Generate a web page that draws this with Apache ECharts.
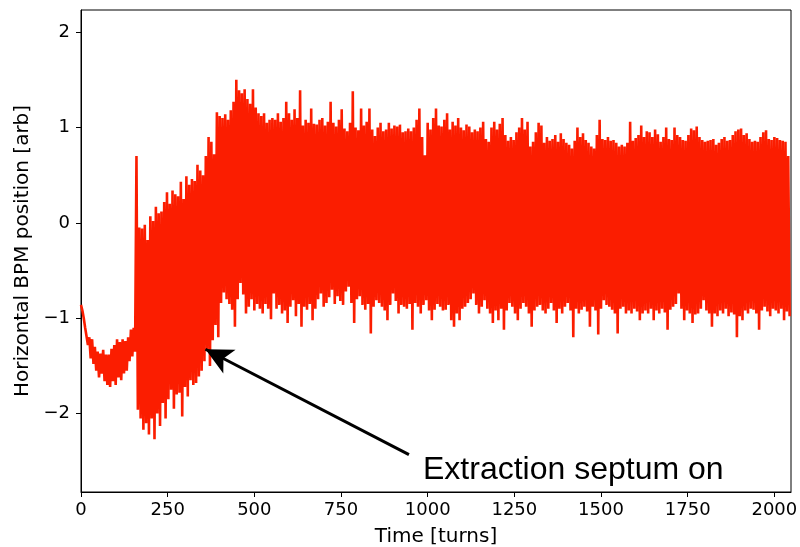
<!DOCTYPE html>
<html>
<head>
<meta charset="utf-8">
<script src="https://cdn.jsdelivr.net/npm/echarts@6/dist/echarts.min.js"></script>
<style>html,body{margin:0;padding:0;background:#fff}#c{width:800px;height:547px}</style>
</head>
<body>
<div id="c"></div>
<script>
// Envelope of the turn-by-turn BPM signal, read every 8 turns (upper extreme, lower extreme)
const turnStep = 8;
const upperEnv = [
 -0.86,-1.0,-1.12,-1.2,-1.22,-1.3,-1.35,-1.37,-1.33,-1.38,-1.38,-1.32,-1.28,-1.22,-1.25,-1.22,-1.24,-1.2,-1.12,-1.1,
 0.70,-0.05,-0.06,-0.02,-0.18,0.07,0.02,0.17,0.10,0.12,0.22,0.32,
 0.20,0.34,0.30,0.28,0.43,0.25,0.49,0.40,0.46,0.44,0.61,0.55,
 0.50,0.70,0.90,0.85,0.72,1.16,1.12,1.10,1.14,1.08,1.18,1.27,
 1.50,1.39,1.36,1.40,1.30,1.25,1.40,1.21,1.15,1.12,1.15,1.05,
 1.08,1.10,1.08,1.15,1.06,1.10,1.27,1.15,1.08,1.19,1.10,1.39,
 1.02,1.08,1.05,1.20,1.04,1.03,1.08,1.10,1.02,1.06,1.27,1.05,
 1.01,1.08,1.19,0.99,0.96,1.05,1.38,1.00,0.97,1.20,1.02,1.06,
 1.20,0.98,0.91,1.00,1.05,0.96,0.98,1.05,0.99,1.02,1.01,1.03,
 0.95,0.96,0.99,0.96,1.00,1.08,1.20,0.90,0.71,1.05,0.98,1.10,
 1.20,1.02,1.01,1.08,1.15,0.98,1.06,1.02,1.10,1.00,0.97,1.03,
 1.01,0.95,0.98,0.96,1.00,1.06,0.88,0.85,1.00,1.06,0.98,1.04,
 1.10,0.92,0.86,0.90,0.87,0.95,1.00,1.10,0.98,1.06,0.80,0.85,
 0.95,1.05,1.02,0.84,0.90,0.86,0.88,0.92,0.85,0.94,0.88,0.84,
 0.82,0.78,0.86,1.00,0.90,0.94,0.87,0.84,0.80,0.78,0.92,1.08,
 0.88,0.87,0.90,0.86,0.87,0.84,0.80,0.82,0.80,0.84,1.06,0.86,
 0.89,0.92,1.02,0.90,0.96,0.95,0.90,0.98,0.93,0.85,0.90,1.00,
 0.88,0.87,1.00,0.92,0.90,0.87,0.86,0.92,0.99,0.97,1.01,0.90,
 0.87,0.85,0.86,0.87,0.88,0.82,0.84,0.88,0.90,0.86,0.87,0.92,
 0.96,0.98,0.99,0.92,0.94,0.88,0.85,0.86,0.85,0.90,0.95,0.97,
 0.88,0.87,0.90,0.89,0.87,0.86,0.85,0.70
];
const lowerEnv = [
 -0.92,-1.1,-1.28,-1.42,-1.48,-1.55,-1.62,-1.58,-1.66,-1.7,-1.72,-1.66,-1.7,-1.62,-1.65,-1.58,-1.55,-1.45,-1.4,-1.35,
 -1.96,-2.05,-2.17,-2.10,-2.22,-2.05,-2.27,-2.00,-2.13,-1.89,-2.05,-1.85,
 -1.75,-1.95,-1.80,-1.78,-2.03,-1.72,-1.82,-1.65,-1.70,-1.68,-1.61,-1.55,
 -1.45,-1.33,-1.50,-1.23,-1.07,-1.20,-0.84,-0.73,-0.80,-0.85,-0.91,-1.09,
 -0.80,-0.63,-0.75,-0.95,-0.88,-0.80,-0.92,-0.85,-0.90,-0.95,-0.85,-0.90,
 -1.01,-0.74,-0.90,-0.86,-0.95,-0.92,-1.05,-0.88,-0.81,-0.98,-0.85,-1.09,
 -0.88,-0.91,-0.85,-1.02,-0.90,-0.80,-0.74,-0.88,-0.84,-0.78,-0.70,-0.85,
 -0.77,-0.82,-0.86,-0.72,-0.67,-0.84,-1.05,-0.80,-0.77,-0.86,-0.91,-0.85,
 -1.16,-0.88,-0.81,-0.84,-0.88,-0.92,-1.02,-0.86,-0.74,-0.82,-0.95,-0.86,
 -0.88,-0.90,-0.85,-1.12,-0.84,-0.88,-0.95,-0.86,-0.81,-0.92,-1.02,-0.91,
 -0.85,-0.88,-0.92,-0.91,-0.86,-1.02,-1.09,-0.95,-1.02,-0.90,-0.88,-0.84,
 -0.80,-0.74,-0.86,-0.95,-0.88,-0.81,-0.90,-0.95,-1.05,-0.92,-1.02,-0.90,
 -1.12,-0.92,-0.84,-0.88,-0.95,-1.02,-0.90,-0.84,-0.88,-0.95,-1.09,-0.92,
 -0.88,-0.86,-0.92,-0.95,-0.90,-0.84,-0.92,-1.05,-0.90,-0.95,-0.88,-0.84,
 -0.92,-1.20,-0.90,-0.95,-0.91,-0.88,-0.93,-1.09,-0.88,-0.92,-1.17,-0.90,
 -0.81,-0.86,-0.88,-0.91,-0.95,-1.16,-0.90,-0.88,-0.95,-0.92,-0.95,-0.90,
 -0.93,-1.02,-0.95,-0.92,-0.95,-0.90,-1.02,-0.92,-0.95,-0.90,-0.94,-1.12,
 -0.91,-0.88,-0.85,-0.74,-0.90,-1.02,-0.92,-0.95,-1.05,-0.96,-0.95,-0.90,
 -0.81,-0.92,-0.95,-1.09,-0.95,-0.98,-0.92,-0.95,-0.90,-0.98,-0.94,-0.96,
 -1.20,-0.98,-1.02,-0.92,-0.95,-0.90,-0.91,-0.95,-1.12,-0.92,-0.88,-0.93,
 -0.98,-0.90,-0.92,-0.95,-0.90,-1.02,-0.93,-0.98
];
const xTicks = [0, 250, 500, 750, 1000, 1250, 1500, 1750, 2000];
const yTicks = [-2, -1, 0, 1, 2];
const annotationText = 'Extraction septum on';
const arrowFrom = [946, -2.43];
const arrowTip = [359, -1.325];

// Build the oscillating trace: each 8-turn block goes up to its upper extreme then down to its lower extreme
const trace = [];
for (let i = 0; i < upperEnv.length; i++) {
  trace.push([i * turnStep, upperEnv[i]]);
  trace.push([i * turnStep + turnStep / 2, lowerEnv[i]]);
}

const fmt = v => (v < 0 ? '\u2212' + Math.abs(v) : String(v));
const chart = echarts.init(document.getElementById('c'), null, {renderer: 'canvas'});
chart.setOption({
  animation: false,
  backgroundColor: '#fff',
  grid: {left: 81, right: 9, top: 10, bottom: 55, outerBoundsMode: 'none', containLabel: false,
         show: true, borderColor: '#000', borderWidth: 1, backgroundColor: 'transparent'},
  xAxis: {
    type: 'value', min: 0, max: 2048,
    name: 'Time [turns]', nameLocation: 'middle', nameGap: 35,
    nameTextStyle: {fontFamily: 'DejaVu Sans', fontSize: 20, color: '#000'},
    axisLine: {show: true, onZero: false, lineStyle: {color: '#000', width: 1}},
    axisTick: {show: true, length: 5, lineStyle: {color: '#000'}, customValues: xTicks},
    axisLabel: {show: true, color: '#000', fontFamily: 'DejaVu Sans', fontSize: 18, margin: 9, customValues: xTicks, formatter: fmt},
    splitLine: {show: false}
  },
  yAxis: {
    type: 'value', min: -2.822, max: 2.232,
    name: 'Horizontal BPM position [arb]', nameLocation: 'middle', nameGap: 48,
    nameTextStyle: {fontFamily: 'DejaVu Sans', fontSize: 20, color: '#000'},
    axisLine: {show: true, onZero: false, lineStyle: {color: '#000', width: 1}},
    axisTick: {show: true, length: 5, lineStyle: {color: '#000'}, customValues: yTicks},
    axisLabel: {show: true, color: '#000', fontFamily: 'DejaVu Sans', fontSize: 18, margin: 11, customValues: yTicks, formatter: fmt},
    splitLine: {show: false}
  },
  series: [{
    type: 'line',
    data: trace,
    showSymbol: false,
    sampling: null,
    lineStyle: {color: '#fb1d00', width: 2.6},
    itemStyle: {color: '#fb1d00'},
    markLine: {
      silent: true,
      animation: false,
      symbol: ['none', 'arrow'],
      symbolSize: [20, 27],
      label: {show: false},
      lineStyle: {color: '#000', width: 3, type: 'solid'},
      data: [[{coord: arrowFrom}, {coord: arrowTip}]]
    }
  }],
  graphic: [{
    type: 'text', left: 423, top: 454, z: 100,
    style: {text: annotationText, font: '32px "Liberation Sans", Arial, sans-serif', fill: '#000'}
  }]
});
</script>
</body>
</html>
